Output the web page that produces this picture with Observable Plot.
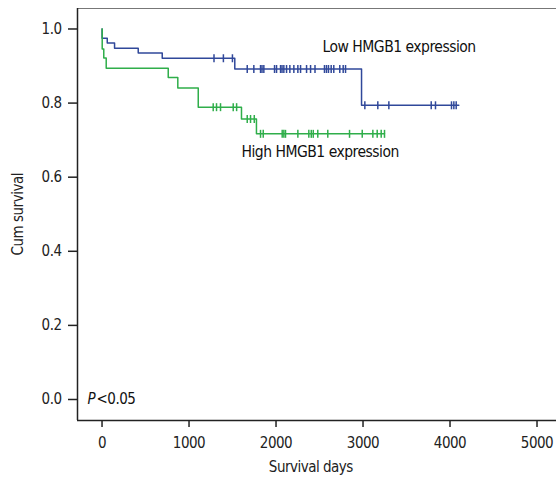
<!DOCTYPE html>
<html><head><meta charset="utf-8">
<script src="https://cdn.jsdelivr.net/npm/d3@7"></script>
<script src="https://cdn.jsdelivr.net/npm/@observablehq/plot@0.6"></script>
<style>
body{margin:0;background:#fff;}
#chart svg text{letter-spacing:-0.5px;}
</style></head><body><div id="chart"></div>
<script>
// Low HMGB1 expression (blue): event times (days) and survival after each step
const lowTimes = [0, 1, 60, 144, 416, 692, 1526, 2983, 4101];
const lowSurv  = [1, 0.975, 0.962, 0.948, 0.935, 0.921, 0.892, 0.794, 0.794];
const lowCensor = [1287, 1395, 1499, 1669, 1745, 1822, 1839, 1860, 1983, 2006, 2052, 2069, 2090, 2121, 2159, 2205, 2251, 2282, 2351, 2397, 2448, 2557, 2580, 2603, 2634, 2664, 2733, 2772, 2799, 3021, 3170, 3297, 3784, 3833, 4017, 4044, 4071];

// High HMGB1 expression (green)
const highTimes = [0, 2, 20, 48, 761, 871, 1106, 1603, 1775, 3247];
const highSurv  = [1, 0.946, 0.922, 0.894, 0.869, 0.841, 0.789, 0.757, 0.717, 0.717];
const highCensor = [1278, 1316, 1362, 1508, 1547, 1669, 1707, 1750, 1822, 1853, 2071, 2090, 2109, 2251, 2377, 2405, 2428, 2480, 2595, 2845, 2991, 3113, 3163, 3209, 3247];

const groups = ["Low HMGB1 expression", "High HMGB1 expression"];
const xTicks = [0, 1000, 2000, 3000, 4000, 5000];
const yTicks = [0, 0.2, 0.4, 0.6, 0.8, 1.0];

const colors = {low: "#30489a", high: "#2fae4a"};
const xDomain = [-282, 5224];
const yDomain = [-0.0567, 1.0553];

function steps(times, surv) { return times.map((t, i) => ({t, s: surv[i]})); }
function levelAt(times, surv, t) {
  let s = surv[0];
  for (let i = 0; i < times.length; i++) if (times[i] <= t) s = surv[i];
  return s;
}
const lowLine = steps(lowTimes, lowSurv);
const highLine = steps(highTimes, highSurv);
const lowCens = lowCensor.map(t => ({t, s: levelAt(lowTimes, lowSurv, t)}));
const highCens = highCensor.map(t => ({t, s: levelAt(highTimes, highSurv, t)}));

const vbar = {draw(ctx, size) { const h = Math.sqrt(size / Math.PI); ctx.moveTo(0, -h); ctx.lineTo(0, h); }};
const font = "'Liberation Sans Narrow','DejaVu Sans Condensed','Roboto Condensed',sans-serif";
const axisColor = "#222";

const chart = Plot.plot({
  width: 556,
  height: 482,
  marginLeft: 77,
  marginRight: 0,
  marginTop: 8,
  marginBottom: 62,
  style: {fontFamily: font, fontSize: "15px", color: axisColor, background: "#fff"},
  x: {domain: xDomain},
  y: {domain: yDomain},
  marks: [
    Plot.ruleY([yDomain[1]], {stroke: "#777", strokeWidth: 1}),
    Plot.ruleY([yDomain[0]], {stroke: axisColor, strokeWidth: 1.5}),
    Plot.ruleX([xDomain[0]], {stroke: axisColor, strokeWidth: 1.5}),
    Plot.axisX({ticks: xTicks, tickSize: 7, tickPadding: 10, tickFormat: d3.format("d"), strokeWidth: 1.5, label: null}),
    Plot.axisY({ticks: yTicks, tickSize: 9, tickPadding: 7, tickFormat: d3.format(".1f"), strokeWidth: 1.5, label: null}),
    Plot.text(["Survival days"], {x: 2400, frameAnchor: "bottom", dy: 51, fontSize: 15}),
    Plot.text(["Cum survival"], {y: 0.5, frameAnchor: "left", dx: -59, rotate: -90, textAnchor: "middle", fontSize: 15}),
    Plot.line(lowLine, {x: "t", y: "s", curve: "step-after", stroke: colors.low, strokeWidth: 1.5}),
    Plot.line(highLine, {x: "t", y: "s", curve: "step-after", stroke: colors.high, strokeWidth: 1.5}),
    Plot.dot(lowCens, {x: "t", y: "s", symbol: vbar, r: 4, fill: "none", stroke: colors.low, strokeWidth: 1.5}),
    Plot.dot(highCens, {x: "t", y: "s", symbol: vbar, r: 4, fill: "none", stroke: colors.high, strokeWidth: 1.5}),
    Plot.text([groups[0]], {x: 2534, y: 0.95, textAnchor: "start", fontSize: 15.5, fill: "#111"}),
    Plot.text([groups[1]], {x: 1603, y: 0.667, textAnchor: "start", fontSize: 15.5, fill: "#111"}),
    Plot.text(["P"], {x: -167, y: 0, textAnchor: "start", fontStyle: "italic", fontSize: 15, fill: "#111"}),
    Plot.text(["<0.05"], {x: -167, y: 0, dx: 9, textAnchor: "start", fontSize: 15, fill: "#111"})
  ]
});
document.getElementById("chart").append(chart);
</script></body></html>
